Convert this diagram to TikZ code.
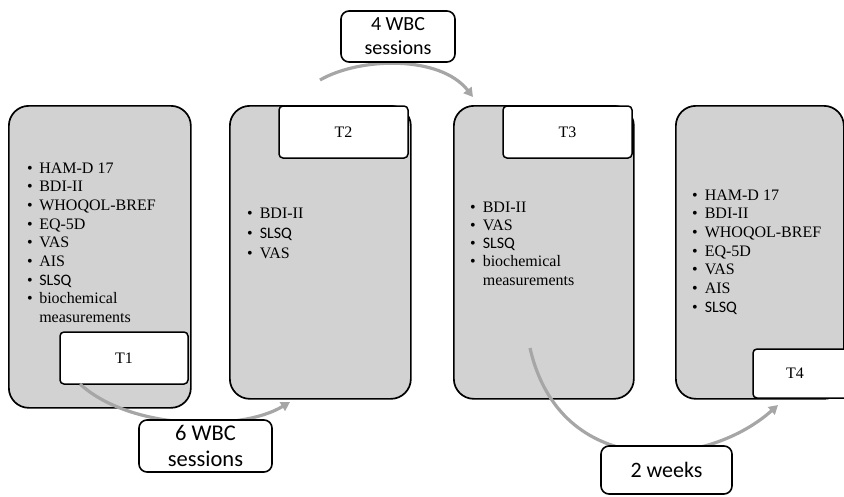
\documentclass[tikz,border=0pt]{standalone}
\usepackage{fontspec}
\setmainfont{Liberation Serif}
\newfontfamily\calfont{Carlito}
\usetikzlibrary{arrows.meta}

\tikzset{
  panel/.style={draw=black, line width=1.7pt, fill=gray!35, rounded corners=20pt,
    anchor=north west, inner sep=0pt},
  tag/.style={draw=black, line width=1.5pt, fill=white, rounded corners=4pt,
    inner sep=0pt, font=\fontsize{16}{18}\selectfont},
  gap/.style={draw=black, line width=1.6pt, fill=white, rounded corners=8pt,
    inner sep=0pt, align=center},
  flow/.style={draw=black!35, line width=3.2pt, -{Triangle[length=9pt,width=10pt]}},
  items/.style={anchor=base west, inner sep=0pt, font=\fontsize{16}{18.7}\selectfont},
}
\newcommand{\sq}{{\calfont SLSQ}}
\newcommand{\blt}{\textbullet}

\begin{document}
\begin{tikzpicture}[x=1pt,y=-1pt]
  \useasboundingbox (0,0) rectangle (844,496);
  \clip (0,0) rectangle (844,496);
  % time points
  \node[panel, minimum width=182pt, minimum height=302pt] (p1) at (8,105) {};
  \node[panel, minimum width=181pt, minimum height=293pt] (p2) at (229,105) {};
  \node[panel, minimum width=180pt, minimum height=293pt] (p3) at (453,105) {};
  \node[panel, minimum width=168pt, minimum height=293pt] (p4) at (675,105) {};
  \node[tag, minimum width=128pt, minimum height=52pt] (t1) at (124,358) {T1};
  \node[tag, minimum width=129pt, minimum height=52pt] (t2) at (343.5,132) {T2};
  \node[tag, minimum width=129pt, minimum height=52pt] (t3) at (567.5,132) {T3};
  \node[tag, minimum width=100pt, minimum height=49pt] (t4) at (803,373.5) {};
  \node[inner sep=0pt, font=\fontsize{16}{18}\selectfont] (t4lbl) at (795,373.5) {T4};
  % questionnaires
  \node[items] (l1) at (27,173) {\begin{tabular}[t]{@{}l@{\hskip 6.5pt}l@{}}
    \blt & HAM-D 17\\ \blt & BDI-II\\ \blt & WHOQOL-BREF\\ \blt & EQ-5D\\
    \blt & VAS\\ \blt & AIS\\ \blt & \sq\\ \blt & biochemical\\ & measurements
  \end{tabular}};
  \node[items, font=\fontsize{16}{20}\selectfont] (l2) at (247,218) {\begin{tabular}[t]{@{}l@{\hskip 7pt}l@{}}
    \blt & BDI-II\\ \blt & \sq\\ \blt & VAS
  \end{tabular}};
  \node[items, font=\fontsize{16}{18.3}\selectfont] (l3) at (470,212) {\begin{tabular}[t]{@{}l@{\hskip 7pt}l@{}}
    \blt & BDI-II\\ \blt & VAS\\ \blt & \sq\\ \blt & biochemical\\ & measurements
  \end{tabular}};
  \node[items] (l4) at (692,200) {\begin{tabular}[t]{@{}l@{\hskip 7pt}l@{}}
    \blt & HAM-D 17\\ \blt & BDI-II\\ \blt & WHOQOL-BREF\\ \blt & EQ-5D\\
    \blt & VAS\\ \blt & AIS\\ \blt & \sq
  \end{tabular}};
  % intervals
  \coordinate (s1) at (80,384);
  \coordinate (e1) at (290,402);
  \coordinate (s2) at (320,80);
  \coordinate (e2) at (473,97);
  \coordinate (s3) at (530,348);
  \coordinate (e3) at (778,405);
  \draw[flow] (s1) .. controls (130,430) and (240,432) .. (e1);
  \draw[flow] (s2) .. controls (360,57) and (440,55) .. (e2);
  \draw[flow] (s3) .. controls (560,480) and (705,470) .. (e3);
  \node[gap, minimum width=133pt, minimum height=52pt,
    font=\calfont\fontsize{22.5}{26}\selectfont] (w6) at (205.5,446) {6 WBC\\sessions};
  \node[gap, minimum width=114pt, minimum height=51pt,
    font=\calfont\fontsize{20}{24}\selectfont] (w4) at (398,36.5) {4 WBC\\sessions};
  \node[gap, minimum width=131pt, minimum height=48pt,
    font=\calfont\fontsize{22}{26}\selectfont] (wk) at (666.5,470) {2 weeks};
\end{tikzpicture}
\end{document}
